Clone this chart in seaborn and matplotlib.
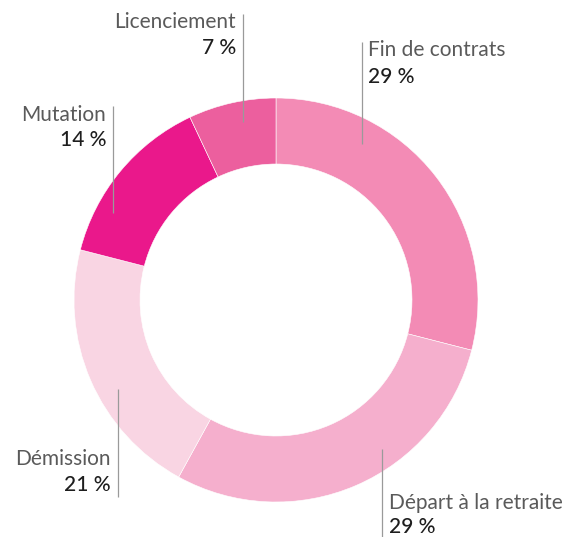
import matplotlib
matplotlib.use("Agg")
import matplotlib.pyplot as plt
import seaborn as sns

# data
labels = ["Fin de contrats", "Départ à la retraite", "Démission", "Mutation", "Licenciement"]
shares = [29, 29, 21, 14, 7]
colors = ["#F38BB5", "#F5AFCD", "#F9D5E3", "#EA188B", "#EC5F9E"]

sns.set_theme(style="white")
plt.rcParams['font.family'] = ['Lato', 'DejaVu Sans']

W, H = 567, 537
fig = plt.figure(figsize=(W / 100, H / 100), dpi=100)
ax = fig.add_axes([0, 0, 1, 1])

cx, cy, r = 276, H - 300, 202
ax.pie(shares, colors=colors, startangle=90, counterclock=False,
       center=(cx, cy), radius=r, frame=True,
       wedgeprops=dict(width=66, edgecolor='white', linewidth=0.4))
ax.set_xlim(0, W)
ax.set_ylim(0, H)
ax.set_aspect('equal')
ax.axis('off')

# label layout: (line x, line top, line bottom, text x, name y, pct y, align)
layout = {
    "Fin de contrats": (362, 42, 144, 368, 50, 77, 'left'),
    "Départ à la retraite": (382, 449, 540, 389, 503, 527, 'left'),
    "Démission": (118, 389, 497, 111, 459, 485, 'right'),
    "Mutation": (113, 106, 213, 106, 115, 140, 'right'),
    "Licenciement": (243, 14, 122, 236, 22, 48, 'right'),
}

for lab, val in zip(labels, shares):
    lx, ly0, ly1, tx, ny, py, ha = layout[lab]
    ax.plot([lx, lx], [H - ly0, H - ly1], color='#9a9a9a', lw=0.9,
            solid_capstyle='butt', zorder=5)
    ax.text(tx, H - ny, lab, ha=ha, va='center', fontsize=15,
            fontweight='normal', color='#5a5a5a')
    ax.text(tx, H - py, f"{val} %", ha=ha, va='center', fontsize=15,
            fontweight='medium', color='#1e1e1e')

fig.savefig('out.png', dpi=100)
